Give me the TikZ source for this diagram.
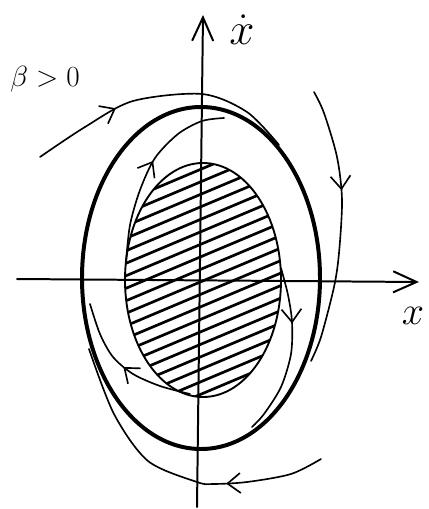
\documentclass[tikz,border=0pt]{standalone}
\usepackage{amsmath}
\usepackage{graphicx}
\usetikzlibrary{arrows.meta,decorations.markings}

\tikzset{
  orbit/.style={line width=1.4pt, line cap=round},
  limitcycle/.style={line width=3.4pt},
  axisline/.style={line width=1.7pt, line cap=round,
    -{Straight Barb[length=20pt,width=18pt,line width=1.7pt]}},
  hatchline/.style={line width=2.3pt},
  flowtip/.style={postaction={decorate}, decoration={markings,
    mark=at position #1 with {\arrow{Straight Barb[length=11pt,width=17pt,line width=1.4pt]}}}},
  bigmath/.style={font=\Huge, inner sep=0pt, anchor=base}
}

\begin{document}
\begin{tikzpicture}[x=0.03cm, y=-0.03cm]
\useasboundingbox (0,0) rectangle (429,509);

% axes
\coordinate (xleft) at (17,279);
\coordinate (xright) at (419,282);
\coordinate (ybottom) at (197,507);
\coordinate (ytop) at (203,15);
\draw[axisline] (xleft) -- (xright);
\draw[axisline] (ybottom) -- (ytop);

\node[bigmath] (ylab) at (242,45) {\scalebox{1.55}{$\dot{x}$}};
\node[bigmath] (xlab) at (413,324) {\scalebox{1.37}{$x$}};
\node[bigmath] (beta) at (45,87) {$\beta>0$};

% hatched region
\begin{scope}
\clip (203,280) ellipse [x radius=78, y radius=117];
\foreach \k in {-14,...,14}
  \draw[hatchline] (110,{281+12.5*\k+39}) -- (300,{281+12.5*\k-41});
\end{scope}
\draw[line width=1.6pt] (203,280) ellipse [x radius=78, y radius=117];

% limit cycle
\draw[limitcycle] (201,278) ellipse [x radius=119, y radius=171];

% trajectories outside
\draw[orbit, flowtip=0.33] plot[smooth] coordinates {(40,157) (85,127) (133,101) (202,94) (247,112) (279,145)};
\draw[orbit, flowtip=0.37] plot[smooth] coordinates {(314,92) (324,113) (337,157) (342,200) (339,253) (334,287) (321,337) (311,361)};
\draw[orbit, flowtip=0.32] plot[smooth] coordinates {(321,459) (291,474) (247,482) (213,484) (197,482) (148,461) (114,414) (89,349)};

% trajectories inside
\draw[orbit, flowtip=0.55] plot[smooth] coordinates {(126,262) (130,225) (140,190) (155,158) (178,134) (202,121) (224,118)};
\draw[orbit, flowtip=0.33] plot[smooth] coordinates {(281,268) (288,295) (292,322) (291,354) (281,387) (264,414) (252,427)};
\draw[orbit, flowtip=0.5] plot[smooth] coordinates {(190,394) (160,386) (133,374) (113,357) (100,334) (90,304)};

\end{tikzpicture}
\end{document}
